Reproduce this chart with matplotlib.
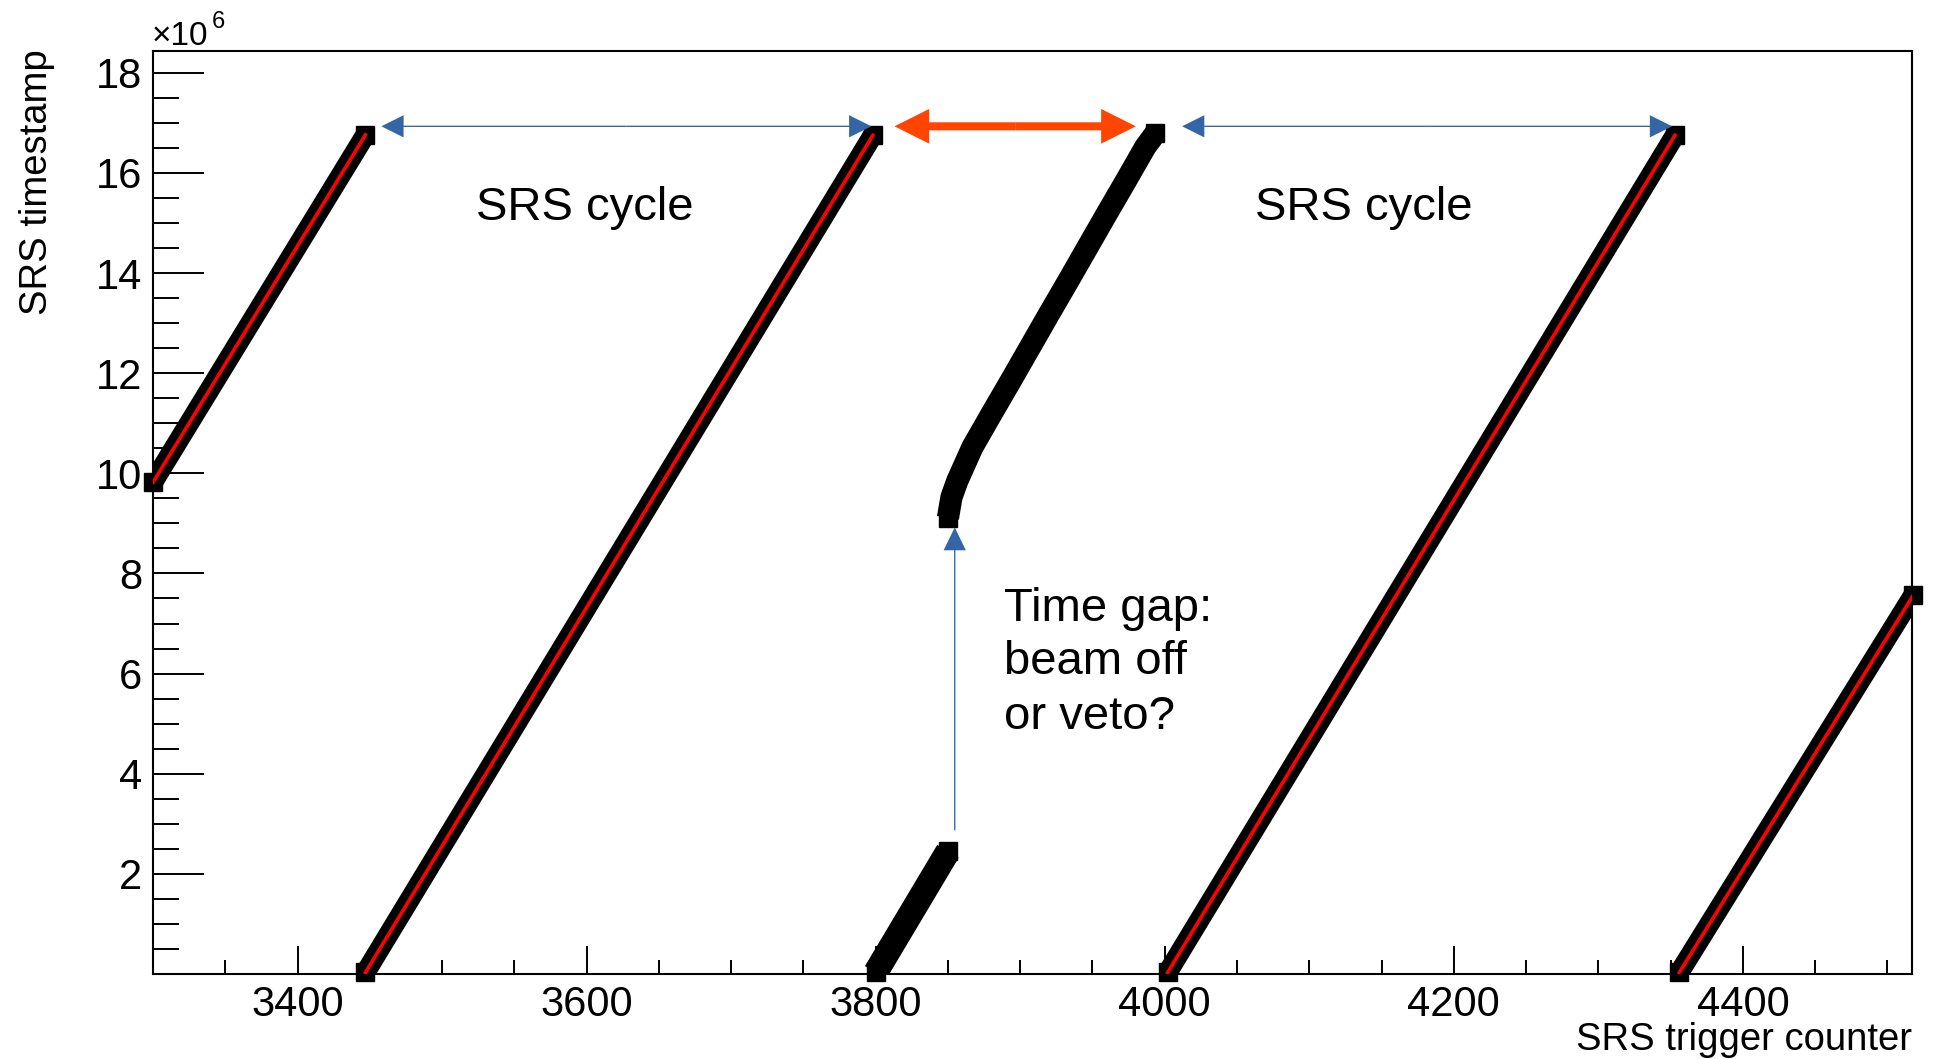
import numpy as np
import matplotlib.pyplot as plt
from matplotlib.patches import FancyArrowPatch
from matplotlib.ticker import MultipleLocator, FixedLocator

plt.rcParams['font.family'] = ['Liberation Sans', 'DejaVu Sans']

# SRS trigger counter vs SRS timestamp (timestamp in units of 1e6)
cnt1 = [3300, 3447]
ts1 = [9.82, 16.76]
cnt2 = [3447, 3798]
ts2 = [0.03, 16.75]
cnt3 = [3800, 3850]
ts3 = [0.03, 2.45]
cnt4 = [3850, 3852.4, 3856.5, 3866.9, 3880.2, 3893.5, 3906.8, 3920.1, 3933.4,
        3946.7, 3960, 3973.3, 3986.6, 3993.5]
ts4 = [9.11, 9.52, 9.85, 10.52, 11.19, 11.85, 12.52, 13.19, 13.85,
       14.52, 15.19, 15.85, 16.52, 16.79]
cnt5 = [4002, 4353]
ts5 = [0.03, 16.75]
cnt6 = [4356, 4518]
ts6 = [0.03, 7.57]

# segments with a red fit line on top
fitted = [(cnt1, ts1), (cnt2, ts2), (cnt5, ts5), (cnt6, ts6)]
# segments without fit line (wider band)
unfitted = [(cnt3, ts3, 18), (cnt4, ts4, 16)]

y_ticks = [2, 4, 6, 8, 10, 12, 14, 16, 18]
x_ticks = [3400, 3600, 3800, 4000, 4200, 4400]

blue = '#3465a4'
orange = '#ff4500'

fig = plt.figure(figsize=(19.34, 10.59), dpi=100)
ax = fig.add_axes([153 / 1934, 1 - 974 / 1059, (1912 - 153) / 1934, (974 - 50.7) / 1059])

for x, y in fitted:
    ax.plot(x, y, color='k', lw=14.5, solid_capstyle='butt', zorder=2)
    ax.plot([x[0], x[-1]], [y[0], y[-1]], 's', ms=12.5, color='k', clip_on=False, zorder=2)
    ax.plot(x, y, color='red', lw=2.6, zorder=3)

for x, y, w in unfitted:
    ax.plot(x, y, color='k', lw=w, solid_capstyle='butt', solid_joinstyle='round', zorder=2)
    ax.plot([x[0], x[-1]], [y[0], y[-1]], 's', ms=13, color='k', clip_on=False, zorder=2)

ax.set_xlim(3300, 4517)
ax.set_ylim(0, 18.44)

ax.xaxis.set_major_locator(FixedLocator(x_ticks))
ax.xaxis.set_minor_locator(MultipleLocator(50))
ax.yaxis.set_major_locator(FixedLocator(y_ticks))
ax.yaxis.set_minor_locator(MultipleLocator(0.5))
ax.set_xticklabels([str(v) for v in x_ticks])
ax.set_yticklabels([str(v) for v in y_ticks])

ax.tick_params(axis='both', which='both', direction='in', width=1.4, labelsize=30,
               top=False, right=False)
ax.tick_params(axis='x', which='major', length=20, pad=8)
ax.tick_params(axis='x', which='minor', length=10)
ax.tick_params(axis='y', which='major', length=37, pad=8)
ax.tick_params(axis='y', which='minor', length=18.5)
for s in ax.spines.values():
    s.set_linewidth(1.5)

# axis titles, ROOT style
fig.text(37 / 1934, 1 - 49 / 1059, 'SRS timestamp', rotation=90, ha='center', va='top',
         fontsize=27.5)
fig.text(1912 / 1934, 1 - 1040 / 1059, 'SRS trigger counter', ha='right', va='center',
         fontsize=27.5)
fig.text(152 / 1934, 1 - 45 / 1059, '\u00d710', ha='left', va='baseline', fontsize=24)
fig.text(212 / 1934, 1 - 28 / 1059, '6', ha='left', va='baseline', fontsize=17)


def double_arrow(x0, x1, y, color, tail, head_w, head_l):
    xm = (x0 + x1) / 2
    style = f'simple,head_length={head_l},head_width={head_w},tail_width={tail}'
    for xe in (x0, x1):
        ax.add_patch(FancyArrowPatch((xm, y), (xe, y), arrowstyle=style, mutation_scale=1,
                                     color=color, lw=0, shrinkA=0, shrinkB=0, zorder=4))


double_arrow(3458, 3797, 16.93, blue, 0.95, 16, 16)
double_arrow(4012, 4351, 16.93, blue, 0.95, 16, 16)
double_arrow(3813, 3980, 16.93, orange, 5.8, 25, 25)
ax.add_patch(FancyArrowPatch((3854.7, 2.87), (3854.7, 8.92),
                             arrowstyle='simple,head_length=16.5,head_width=16,tail_width=0.95',
                             mutation_scale=1, color=blue, lw=0, shrinkA=0, shrinkB=0, zorder=4))

ann = dict(fontsize=34, va='baseline')
ax.text(3598.7, 15.06, 'SRS cycle', ha='center', **ann)
ax.text(4137.4, 15.06, 'SRS cycle', ha='center', **ann)
gap_lines = ['Time gap:', 'beam off', 'or veto?']
for line, yb in zip(gap_lines, [7.05, 5.99, 4.90]):
    ax.text(3889, yb, line, ha='left', **ann)

fig.savefig('out.png', dpi=100)
